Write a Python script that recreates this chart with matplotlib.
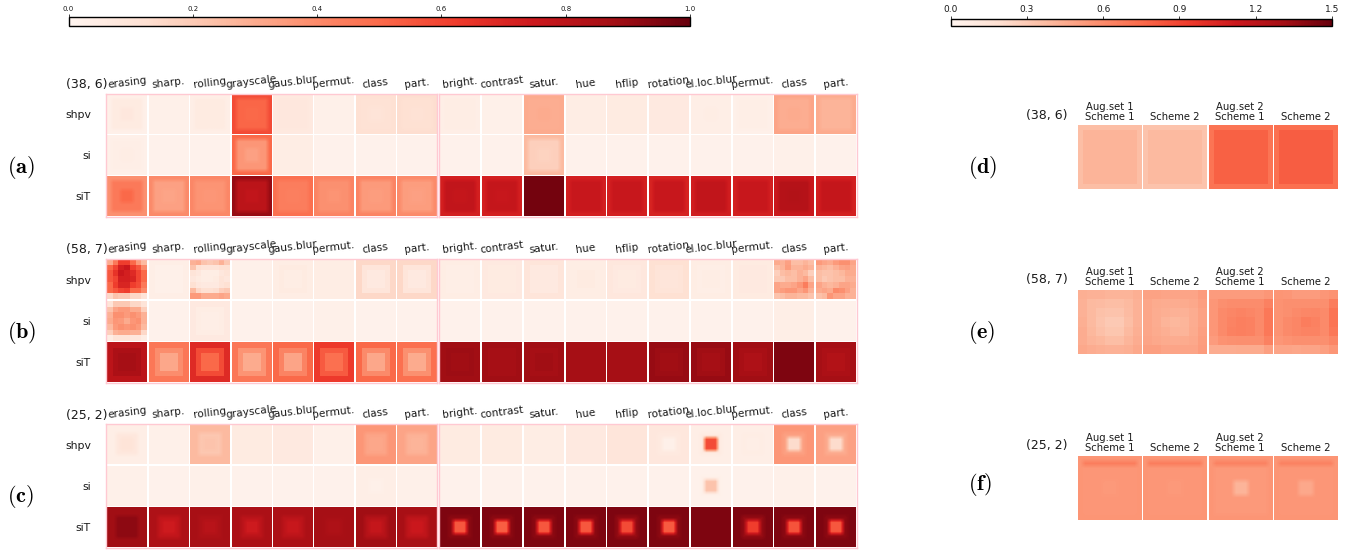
import numpy as np
import matplotlib
matplotlib.use('Agg')
import matplotlib.pyplot as plt
from matplotlib.cm import ScalarMappable
from matplotlib.colors import Normalize

plt.rcParams['mathtext.fontset'] = 'cm'

W, H = 1354, 550

row_names = ['shpv', 'si', 'siT']
aug_left = ['erasing', 'sharp.', 'rolling', 'grayscale', 'gaus.blur', 'permut.', 'class', 'part.']
aug_right = ['bright.', 'contrast', 'satur.', 'hue', 'hflip', 'rotation', 'el.loc.blur', 'permut.', 'class', 'part.']
scheme_top = ['Aug.set 1\nScheme 1', 'Scheme 2', 'Aug.set 2\nScheme 1', 'Scheme 2']

# each cell: (edge, middle, centre)
a_shpv = [(.03, .06, .08), (.03, .03, .03), (.04, .06, .06), (.58, .51, .50), (.07, .08, .08), (.03, .03, .03),
          (.12, .11, .10), (.13, .12, .11), (.04, .05, .05), (.03, .03, .03), (.30, .29, .30), (.05, .05, .05),
          (.06, .06, .06), (.07, .07, .07), (.04, .04, .05), (.03, .04, .04), (.32, .29, .30), (.30, .27, .27)]
a_si = [(.03, .04, .05), (.02, .02, .02), (.02, .02, .02), (.50, .36, .33), (.05, .05, .05), (.02, .02, .02),
        (.02, .02, .02), (.02, .02, .02), (.02, .02, .02), (.02, .02, .02), (.25, .18, .17), (.02, .02, .02),
        (.02, .02, .02), (.02, .02, .02), (.02, .02, .02), (.02, .02, .02), (.03, .03, .03), (.02, .02, .02)]
a_sit = [(.38, .45, .50), (.40, .33, .32), (.41, .37, .36), (.90, .80, .78), (.48, .44, .43), (.42, .38, .37),
         (.42, .35, .34), (.40, .34, .33), (.72, .78, .77), (.72, .77, .76), (.97, .97, .97), (.72, .76, .76),
         (.72, .76, .76), (.71, .76, .76), (.73, .78, .78), (.72, .76, .76), (.75, .82, .83), (.72, .77, .77)]

b_shpv = [(.25, .60, .72), (.04, .03, .03), (.30, .12, .06), (.03, .03, .03), (.05, .06, .05), (.05, .05, .05),
          (.15, .09, .07), (.15, .09, .07), (.05, .04, .04), (.07, .06, .06), (.09, .07, .07), (.05, .05, .06),
          (.08, .07, .06), (.12, .10, .09), (.05, .04, .05), (.06, .07, .07), (.25, .28, .30), (.30, .28, .28)]
b_si = [(.20, .36, .32), (.02, .02, .02), (.07, .05, .04), (.02, .02, .02), (.02, .02, .02), (.03, .03, .03),
        (.02, .02, .02), (.02, .02, .02), (.02, .02, .02), (.02, .02, .02), (.02, .02, .02), (.02, .02, .02),
        (.02, .02, .02), (.02, .02, .02), (.02, .02, .02), (.02, .02, .02), (.04, .04, .04), (.02, .02, .02)]
b_sit = [(.80, .85, .87), (.46, .39, .31), (.68, .58, .50), (.46, .37, .30), (.50, .42, .32), (.63, .54, .48),
         (.50, .40, .31), (.48, .38, .30), (.88, .89, .88), (.88, .87, .87), (.88, .87, .88), (.87, .87, .87),
         (.87, .87, .87), (.90, .89, .88), (.90, .88, .87), (.88, .86, .84), (.95, .95, .95), (.87, .85, .83)]

c_shpv = [(.04, .08, .10), (.03, .03, .03), (.25, .21, .22), (.06, .06, .06), (.07, .07, .07), (.03, .03, .03),
          (.36, .32, .31), (.32, .28, .27), (.06, .06, .06), (.06, .06, .06), (.05, .05, .05), (.07, .07, .07),
          (.09, .09, .09), (.08, .07, .03), (.04, .06, .58), (.04, .05, .04), (.36, .33, .14), (.33, .30, .14)]
c_si = [(.03, .03, .03), (.02, .02, .02), (.03, .03, .03), (.02, .02, .02), (.02, .02, .02), (.02, .02, .02),
        (.04, .04, .03), (.03, .03, .03), (.02, .02, .02), (.02, .02, .02), (.02, .02, .02), (.02, .02, .02),
        (.02, .02, .02), (.02, .02, .02), (.02, .03, .22), (.02, .02, .02), (.03, .03, .03), (.02, .02, .02)]
c_sit = [(.88, .92, .92), (.84, .78, .74), (.86, .84, .81), (.85, .80, .74), (.85, .80, .76), (.87, .86, .84),
         (.88, .82, .77), (.86, .79, .75), (.95, .92, .55), (.95, .92, .53), (.95, .92, .55), (.95, .92, .55),
         (.95, .90, .58), (.95, .92, .54), (.95, .95, .95), (.95, .90, .62), (.95, .92, .56), (.95, .92, .55)]

# the blocky cells of panel (b), patch by patch
b_erasing_shpv = [[.30, .45, .62, .62, .50, .35, .25], [.50, .60, .72, .75, .62, .55, .40],
                  [.55, .65, .75, .72, .68, .60, .50], [.55, .60, .72, .72, .70, .60, .50],
                  [.50, .62, .70, .70, .62, .58, .45], [.50, .55, .60, .62, .50, .50, .40],
                  [.15, .22, .20, .20, .15, .15, .10]]
b_erasing_si = [[.10, .20, .20, .20, .15, .15, .10], [.22, .32, .35, .35, .30, .30, .18],
                [.28, .38, .38, .35, .38, .35, .28], [.30, .36, .35, .30, .36, .38, .28],
                [.25, .35, .38, .36, .38, .35, .25], [.18, .28, .30, .30, .28, .28, .15],
                [.05, .10, .10, .10, .08, .08, .05]]
b_rolling_shpv = [[.28, .30, .22, .20, .22, .28, .20], [.22, .12, .10, .10, .10, .12, .12],
                  [.10, .08, .05, .05, .05, .08, .10], [.08, .06, .05, .05, .06, .10, .08],
                  [.12, .08, .07, .07, .07, .10, .12], [.25, .15, .12, .12, .13, .18, .20],
                  [.35, .35, .30, .30, .30, .32, .30]]
b_class_shpv = [[.30, .28, .33, .24, .24, .27, .24], [.24, .27, .34, .27, .27, .30, .27],
                [.18, .24, .26, .24, .28, .25, .18], [.20, .20, .24, .24, .28, .32, .24],
                [.32, .30, .30, .32, .36, .44, .32], [.32, .34, .36, .36, .32, .36, .28],
                [.22, .24, .27, .27, .25, .25, .22]]
b_part_shpv = [[.35, .32, .30, .35, .38, .38, .32], [.28, .26, .24, .28, .32, .33, .30],
               [.24, .22, .22, .24, .26, .30, .30], [.24, .20, .22, .24, .24, .28, .28],
               [.32, .28, .26, .28, .32, .32, .30], [.30, .32, .30, .40, .38, .33, .28],
               [.23, .25, .36, .32, .32, .28, .28]]

# right hand panels, colour scale runs to 1.5
d_cells = [(.36, .41, .41), (.33, .38, .38), (.70, .78, .78), (.72, .80, .80)]
f_cells = [(.55, .54, .53), (.55, .54, .53), (.55, .53, .41), (.55, .54, .46)]
f_top = [.66, .66, .64, .64]

e_set1_s1 = [[.43, .42, .42, .41, .41, .41, .43], [.42, .38, .37, .36, .36, .38, .42],
             [.42, .38, .34, .33, .33, .37, .42], [.43, .38, .33, .30, .30, .36, .42],
             [.44, .39, .35, .32, .32, .38, .43], [.44, .41, .39, .36, .36, .40, .44],
             [.46, .44, .43, .42, .42, .43, .46]]
e_set1_s2 = [[.49, .49, .48, .48, .48, .48, .52], [.47, .45, .44, .44, .45, .46, .50],
             [.47, .44, .43, .42, .42, .44, .49], [.47, .44, .41, .39, .40, .44, .49],
             [.47, .45, .43, .41, .41, .45, .50], [.48, .46, .45, .44, .45, .46, .51],
             [.50, .50, .48, .48, .48, .48, .52]]
e_set2_s1 = [[.52, .52, .52, .52, .52, .52, .54], [.54, .58, .59, .59, .59, .59, .64],
             [.54, .60, .62, .63, .62, .60, .68], [.54, .60, .63, .65, .64, .60, .68],
             [.54, .60, .64, .65, .64, .60, .68], [.52, .56, .57, .58, .58, .58, .64],
             [.44, .44, .44, .45, .45, .45, .50]]
e_set2_s2 = [[.55, .54, .52, .52, .52, .54, .56], [.56, .58, .58, .58, .58, .58, .66],
             [.56, .58, .60, .61, .62, .60, .70], [.56, .60, .62, .66, .64, .60, .70],
             [.56, .60, .62, .63, .63, .60, .68], [.54, .56, .58, .58, .58, .58, .62],
             [.48, .48, .47, .48, .48, .50, .54]]


def px_axes(x0, y0, x1, y1):
    return fig.add_axes([x0 / W, 1 - y1 / H, (x1 - x0) / W, (y1 - y0) / H])


def px_text(x, y, s, **kw):
    fig.text(x / W, 1 - y / H, s, va='center', **kw)


def ring_cell(vals, rings):
    # square patch with concentric bands, rings says which value each band takes
    n = len(rings)
    size = 2 * n - 1
    img = np.zeros((size, size))
    for i in range(size):
        for j in range(size):
            band = min(i, j, size - 1 - i, size - 1 - j)
            img[i, j] = vals[rings[band]]
    return img


def draw_cell(ax, img, col, row, interp, norm, gapx=.028, gapy=.022):
    ax.imshow(img, cmap='Reds', norm=norm, interpolation=interp, aspect='auto',
              extent=(col + gapx, col + 1 - gapx, row + 1 - gapy, row + gapy))


fig = plt.figure(figsize=(W / 100, H / 100), dpi=100)
norm1 = Normalize(0, 1)
norm2 = Normalize(0, 1.5)
txt = '#1a1a1a'

left_panels = [
    ('(38, 6)', r'$\mathbf{(a)}$', 93.7, 216.7, [a_shpv, a_si, a_sit], [0, 1, 1, 2, 2], 'bilinear', {}, 167),
    ('(58, 7)', r'$\mathbf{(b)}$', 259, 382.7, [b_shpv, b_si, b_sit], [0, 1, 2, 2], 'nearest',
     {(0, 0): b_erasing_shpv, (1, 0): b_erasing_si, (0, 2): b_rolling_shpv,
      (0, 16): b_class_shpv, (0, 17): b_part_shpv}, 333),
    ('(25, 2)', r'$\mathbf{(c)}$', 424, 547.7, [c_shpv, c_si, c_sit], [0, 0, 1, 2, 2], 'bilinear', {}, 497),
]

for title, tag, y0, y1, rows, rings, interp, blocks, tag_y in left_panels:
    ax_l = px_axes(106.2, y0, 437.3, y1)
    ax_r = px_axes(439.3, y0, 856.7, y1)
    for ax, names, first in [(ax_l, aug_left, 0), (ax_r, aug_right, 8)]:
        for r, cells in enumerate(rows):
            for c in range(len(names)):
                if (r, first + c) in blocks:
                    img = np.array(blocks[(r, first + c)])
                else:
                    img = ring_cell(cells[first + c], rings)
                draw_cell(ax, img, c, r, interp, norm1)
        ax.set_xlim(0, len(names))
        ax.set_ylim(3, 0)
        ax.xaxis.tick_top()
        ax.set_xticks(np.arange(len(names)) + .5)
        ax.set_xticklabels(names, rotation=7, fontsize=7.6, color=txt)
        ax.tick_params(axis='both', length=0, pad=3)
        for s in ax.spines.values():
            s.set_color('#ffc9d2')
            s.set_linewidth(1)
    ax_r.set_yticks([])
    ax_l.set_yticks([.5, 1.5, 2.5])
    ax_l.set_yticklabels(row_names, fontsize=7.8, color=txt)
    ax_l.tick_params(axis='y', pad=11)
    px_text(65.5, y0 - 9, title, fontsize=9, color=txt)
    px_text(7, tag_y, tag, fontsize=16, color='black')

right_panels = [
    ('(38, 6)', r'$\mathbf{(d)}$', 125, 189, 167),
    ('(58, 7)', r'$\mathbf{(e)}$', 290, 354, 333),
    ('(25, 2)', r'$\mathbf{(f)}$', 456, 520, 485),
]
e_cells = [e_set1_s1, e_set1_s2, e_set2_s1, e_set2_s2]

for idx, (title, tag, y0, y1, tag_y) in enumerate(right_panels):
    ax = px_axes(1077, y0, 1338, y1)
    for c in range(4):
        if idx == 0:
            draw_cell(ax, ring_cell(d_cells[c], [0, 1, 1, 1, 1, 1, 2]), c, 0, 'nearest', norm2, gapx=.016, gapy=0)
        elif idx == 1:
            draw_cell(ax, np.array(e_cells[c]), c, 0, 'nearest', norm2, gapx=.016, gapy=0)
        else:
            img = ring_cell(f_cells[c], [0, 1, 1, 1, 1, 2, 2])
            img[1, 1:-1] = f_top[c]
            draw_cell(ax, img, c, 0, 'bilinear', norm2, gapx=.016, gapy=0)
    ax.set_xlim(0, 4)
    ax.set_ylim(1, 0)
    ax.xaxis.tick_top()
    ax.set_xticks(np.arange(4) + .5)
    ax.set_xticklabels(scheme_top, fontsize=7.2, color=txt, linespacing=1.05)
    ax.set_yticks([])
    ax.tick_params(axis='x', length=0, pad=2)
    for s in ax.spines.values():
        s.set_visible(False)
    px_text(1026, y0 - 10, title, fontsize=9, color=txt)
    px_text(968, tag_y, tag, fontsize=16, color='black')

cax1 = px_axes(68.5, 17, 690, 26)
cb1 = fig.colorbar(ScalarMappable(norm=norm1, cmap='Reds'), cax=cax1, orientation='horizontal')
cb1.set_ticks(np.arange(0, 1.01, .2))
cb1.outline.set_linewidth(1)
cax2 = px_axes(950.5, 19, 1332, 25.5)
cb2 = fig.colorbar(ScalarMappable(norm=norm2, cmap='Reds'), cax=cax2, orientation='horizontal')
cb2.set_ticks(np.arange(0, 1.51, .3))
cb2.outline.set_linewidth(1)
cax1.xaxis.set_ticks_position('top')
cax2.xaxis.set_ticks_position('top')
cax1.tick_params(labelsize=5, length=2, width=.6, pad=1.5, color=txt, labelcolor=txt)
cax2.tick_params(labelsize=6.5, length=2, width=.6, pad=1.5, color=txt, labelcolor=txt)

fig.savefig('out.png', dpi=100)
